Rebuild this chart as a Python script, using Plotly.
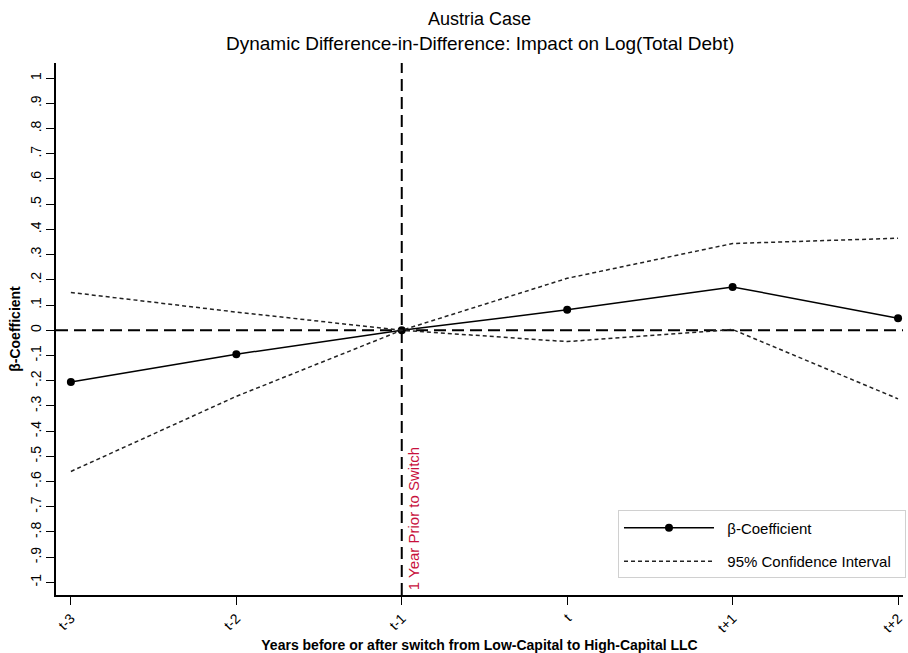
import plotly.graph_objects as go

periods = ["t-3", "t-2", "t-1", "t", "t+1", "t+2"]
beta = [-0.205, -0.095, 0.0, 0.081, 0.172, 0.048]
ci_upper = [0.150, 0.072, 0.0, 0.206, 0.344, 0.365]
ci_lower = [-0.560, -0.262, 0.0, -0.045, 0.003, -0.272]
y_ticks = [round(-1 + 0.1 * i, 1) for i in range(21)]
y_labels = ["-1", "-.9", "-.8", "-.7", "-.6", "-.5", "-.4", "-.3", "-.2", "-.1", "0",
            ".1", ".2", ".3", ".4", ".5", ".6", ".7", ".8", ".9", "1"]

xi = list(range(len(periods)))
FONT = "Liberation Sans, Arial, sans-serif"
PAD = "&nbsp;&nbsp;"

fig = go.Figure()
fig.add_trace(go.Scatter(x=xi, y=beta, mode="lines+markers", name=PAD + "β-Coefficient",
                         legendgroup="b",
                         line=dict(color="black", width=1.5),
                         marker=dict(color="black", size=8)))
fig.add_trace(go.Scatter(x=xi, y=ci_upper, mode="lines",
                         name=PAD + "95% Confidence Interval" + PAD,
                         legendgroup="ci",
                         line=dict(color="#222", width=1.5, dash="4px,3px")))
fig.add_trace(go.Scatter(x=xi, y=ci_lower, mode="lines", showlegend=False, legendgroup="ci",
                         line=dict(color="#222", width=1.5, dash="4px,3px")))

fig.add_shape(type="line", xref="paper", x0=0, x1=1, yref="y", y0=0, y1=0,
              line=dict(color="black", width=2, dash="12px,6px"), layer="below")
fig.add_shape(type="line", xref="x", x0=2, x1=2, yref="paper", y0=0, y1=1,
              line=dict(color="black", width=2, dash="12px,6px"), layer="below")

fig.add_annotation(x=2, y=-1.04, xref="x", yref="y", text="1 Year Prior to Switch",
                   textangle=-90, showarrow=False, xanchor="left", yanchor="bottom",
                   xshift=2, font=dict(family=FONT, size=15, color="#c8103c"))
fig.add_annotation(x=0.5, y=1, xref="paper", yref="paper", yshift=56, text="Austria Case",
                   showarrow=False, font=dict(family=FONT, size=18, color="black"))
fig.add_annotation(x=0.5, y=1, xref="paper", yref="paper", yshift=32,
                   text="Dynamic Difference-in-Difference: Impact on Log(Total Debt)",
                   showarrow=False, font=dict(family=FONT, size=19, color="black"))

fig.update_layout(
    width=908, height=653,
    margin=dict(l=56, r=2, t=63, b=55),
    paper_bgcolor="white", plot_bgcolor="white",
    font=dict(family=FONT, size=14, color="black"),
    showlegend=True,
    legend=dict(x=0.6635, y=0.159, xanchor="left", yanchor="top",
                bgcolor="white", bordercolor="#d0d0d0", borderwidth=1,
                font=dict(family=FONT, size=15, color="black"),
                traceorder="grouped", itemwidth=90, tracegroupgap=11),
    xaxis=dict(range=[-0.09, 5.03], tickmode="array", tickvals=xi, ticktext=periods,
               tickangle=-45, showline=True, linecolor="black", linewidth=1.5,
               ticks="outside", ticklen=8, tickcolor="black", showgrid=False, zeroline=False,
               tickfont=dict(family=FONT, size=14), ticklabeloverflow="allow",
               title=dict(text="<b>Years before or after switch from Low-Capital to High-Capital LLC</b>",
                          font=dict(family=FONT, size=14), standoff=6)),
    yaxis=dict(range=[-1.05, 1.06], tickmode="array", tickvals=y_ticks, ticktext=y_labels,
               tickangle=-90, showline=True, linecolor="black", linewidth=1.5,
               ticks="outside", ticklen=8, tickcolor="black", showgrid=False, zeroline=False,
               tickfont=dict(family=FONT, size=14),
               title=dict(text="<b>β-Coefficient</b>", font=dict(family=FONT, size=14), standoff=4)),
)

fig.write_html("out.html", config={"displayModeBar": False},
               post_script="document.body.style.margin='0';document.body.style.overflow='hidden';")
